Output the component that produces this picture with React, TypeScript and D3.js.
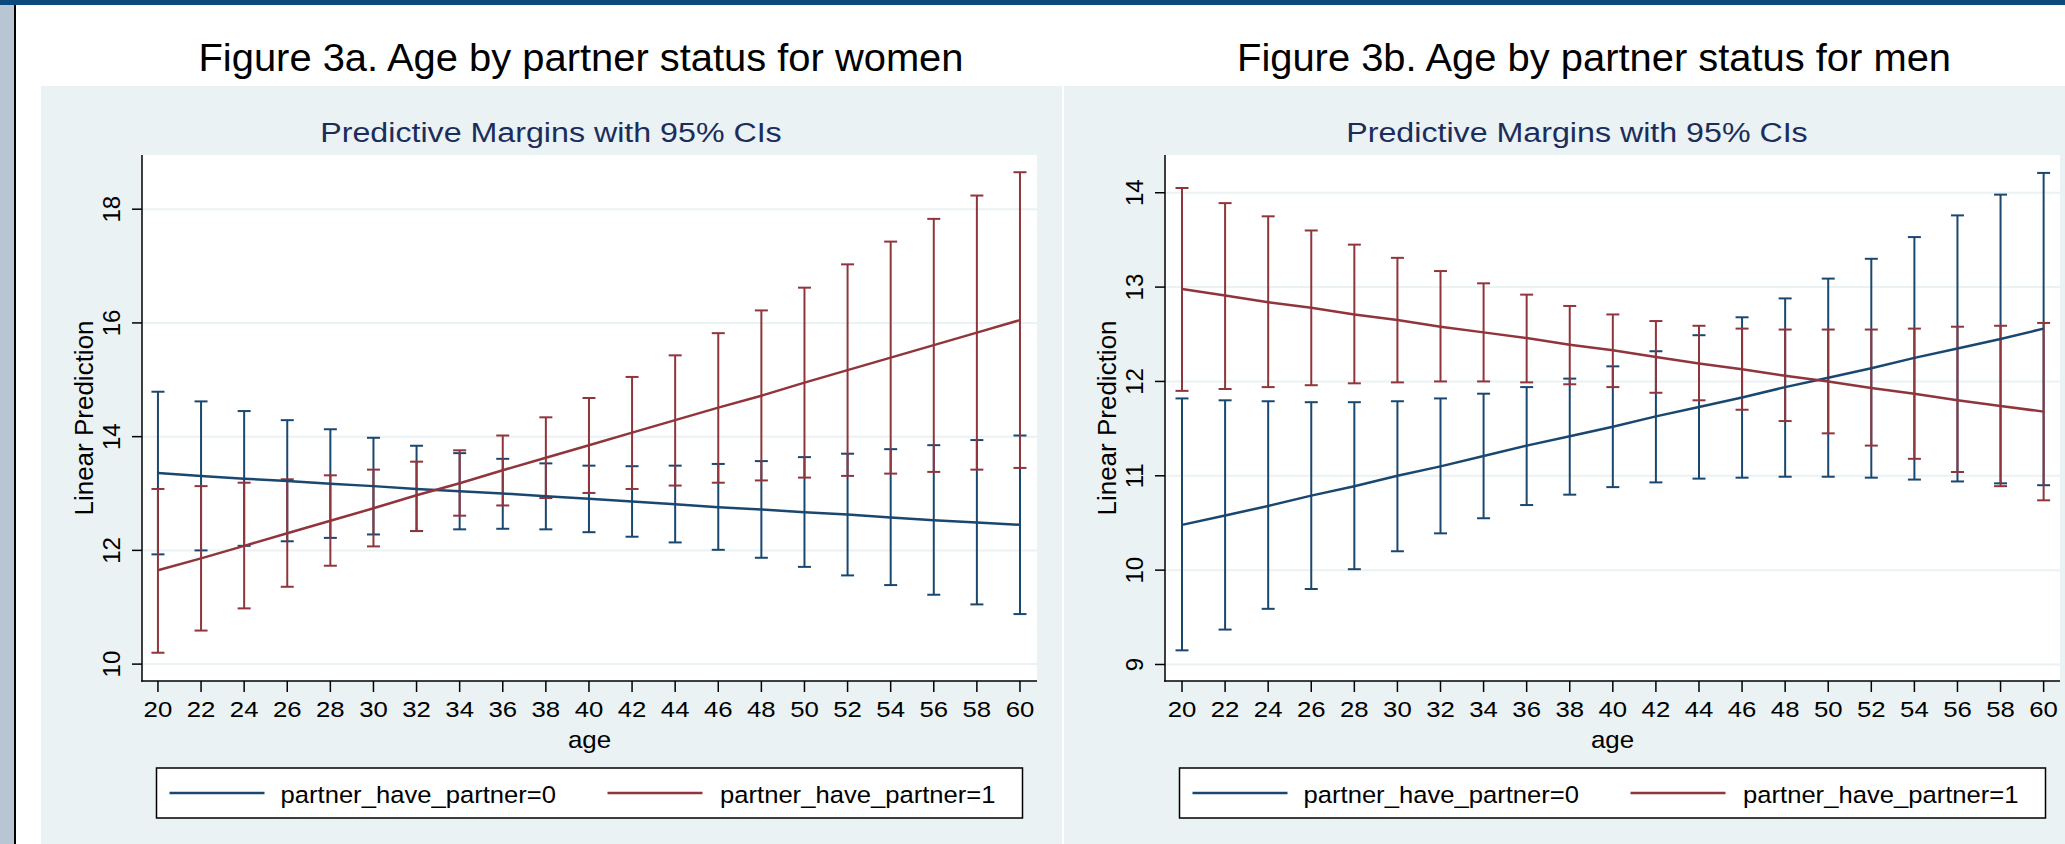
import React from "react";
import * as d3 from "d3";

// ---------- data ----------
const ages = [20, 22, 24, 26, 28, 30, 32, 34, 36, 38, 40, 42, 44, 46, 48, 50, 52, 54, 56, 58, 60];

// Figure 3a – women
const wNoMargin = [13.36, 13.31, 13.26, 13.22, 13.17, 13.13, 13.08, 13.04, 13.0, 12.95, 12.91, 12.86, 12.81, 12.76, 12.72, 12.67, 12.63, 12.58, 12.53, 12.49, 12.45];
const wNoLower = [11.93, 12.0, 12.08, 12.16, 12.22, 12.28, 12.34, 12.37, 12.38, 12.37, 12.32, 12.24, 12.14, 12.01, 11.87, 11.71, 11.56, 11.39, 11.22, 11.05, 10.88];
const wNoUpper = [14.79, 14.62, 14.45, 14.29, 14.13, 13.98, 13.84, 13.71, 13.61, 13.53, 13.49, 13.48, 13.49, 13.52, 13.57, 13.64, 13.7, 13.78, 13.85, 13.94, 14.02];
const wYesMargin = [11.65, 11.86, 12.08, 12.3, 12.52, 12.74, 12.97, 13.18, 13.41, 13.63, 13.85, 14.07, 14.29, 14.51, 14.72, 14.95, 15.17, 15.39, 15.61, 15.83, 16.05];
const wYesLower = [10.2, 10.59, 10.98, 11.36, 11.73, 12.07, 12.34, 12.61, 12.79, 12.92, 13.01, 13.08, 13.14, 13.19, 13.23, 13.28, 13.31, 13.35, 13.38, 13.42, 13.45];
const wYesUpper = [13.08, 13.13, 13.19, 13.25, 13.32, 13.42, 13.56, 13.76, 14.02, 14.34, 14.68, 15.05, 15.43, 15.82, 16.22, 16.62, 17.03, 17.43, 17.83, 18.24, 18.65];

// Figure 3b – men
const mNoMargin = [10.48, 10.58, 10.68, 10.79, 10.89, 11.0, 11.1, 11.21, 11.32, 11.42, 11.52, 11.63, 11.73, 11.83, 11.94, 12.04, 12.14, 12.25, 12.35, 12.45, 12.56];
const mNoLower = [9.15, 9.37, 9.59, 9.8, 10.01, 10.2, 10.39, 10.55, 10.69, 10.8, 10.88, 10.93, 10.97, 10.98, 10.99, 10.99, 10.98, 10.96, 10.94, 10.92, 10.9];
const mNoUpper = [11.82, 11.8, 11.79, 11.78, 11.78, 11.79, 11.82, 11.87, 11.94, 12.03, 12.16, 12.32, 12.49, 12.68, 12.88, 13.09, 13.3, 13.53, 13.76, 13.98, 14.21];
const mYesMargin = [12.98, 12.91, 12.84, 12.78, 12.71, 12.65, 12.58, 12.52, 12.46, 12.39, 12.33, 12.26, 12.19, 12.13, 12.06, 12.0, 11.93, 11.87, 11.8, 11.74, 11.68];
const mYesLower = [11.9, 11.92, 11.94, 11.96, 11.98, 11.99, 12.0, 12.0, 11.99, 11.97, 11.94, 11.88, 11.8, 11.7, 11.58, 11.45, 11.32, 11.18, 11.04, 10.89, 10.74];
const mYesUpper = [14.05, 13.89, 13.75, 13.6, 13.45, 13.31, 13.17, 13.04, 12.92, 12.8, 12.71, 12.64, 12.59, 12.56, 12.55, 12.55, 12.55, 12.56, 12.58, 12.59, 12.62];

const yTicksWomen = [10, 12, 14, 16, 18];
const yTicksMen = [9, 10, 11, 12, 13, 14];
const seriesLabels = ["partner_have_partner=0", "partner_have_partner=1"];

// ---------- style ----------
const W = 2065;
const H = 844;
const FONT = "'Liberation Sans', Arial, Helvetica, sans-serif";
const BLUE = "#1a476f";
const RED = "#90353b";
const PANEL_BG = "#eaf2f3";
const GRID = "#eaf2f3";
const SUB = "#1c2d5c";

function HText(props: any) {
  const { x, y, fs, sx = 1, anchor = "middle", fill = "#000", children } = props;
  return (
    <text
      transform={`translate(${x},${y}) scale(${sx},1)`}
      fontSize={fs}
      textAnchor={anchor}
      fill={fill}
      fontFamily={FONT}
    >
      {children}
    </text>
  );
}

type Series = { margin: number[]; lower: number[]; upper: number[]; color: string };

function Panel(props: any) {
  const { bgX0, bgX1, px0, px1, xDomain, yDomain, yTicks, series, title, titleX, subX } = props;
  const py0 = 155;
  const py1 = 681;
  const x = d3.scaleLinear().domain(xDomain).range([px0, px1]);
  const y = d3.scaleLinear().domain(yDomain).range([py1, py0]);
  const line = d3
    .line<number>()
    .x((_, i) => x(ages[i]))
    .y((d) => y(d));
  const cx = (px0 + px1) / 2;
  const capHalf = 6.5;
  const ss: Series[] = series;

  return (
    <g>
      <rect x={bgX0} y={86} width={bgX1 - bgX0} height={H - 86} fill={PANEL_BG} />
      <HText x={titleX} y={71} fs={38} sx={1.05}>
        {title}
      </HText>
      <HText x={subX} y={142} fs={28} sx={1.15} fill={SUB}>
        Predictive Margins with 95% CIs
      </HText>
      <rect x={px0} y={py0} width={px1 - px0} height={py1 - py0} fill="#fff" />
      {yTicks.map((t: number) => (
        <line key={"g" + t} x1={px0} x2={px1} y1={y(t)} y2={y(t)} stroke={GRID} strokeWidth={2} />
      ))}
      {/* CIs */}
      {ss.map((s, si) => (
        <g key={"ci" + si} stroke={s.color} strokeWidth={2} fill="none">
          {ages.map((a, i) => (
            <g key={a}>
              <line x1={x(a)} x2={x(a)} y1={y(s.lower[i])} y2={y(s.upper[i])} />
              <line x1={x(a) - capHalf} x2={x(a) + capHalf} y1={y(s.lower[i])} y2={y(s.lower[i])} />
              <line x1={x(a) - capHalf} x2={x(a) + capHalf} y1={y(s.upper[i])} y2={y(s.upper[i])} />
            </g>
          ))}
        </g>
      ))}
      {ss.map((s, si) => (
        <path key={"l" + si} d={line(s.margin) || ""} stroke={s.color} strokeWidth={2.5} fill="none" />
      ))}
      {/* axes */}
      <line x1={px0} x2={px0} y1={py0} y2={py1 + 0.75} stroke="#000" strokeWidth={1.5} />
      <line x1={px0 - 0.75} x2={px1} y1={py1} y2={py1} stroke="#000" strokeWidth={1.5} />
      {yTicks.map((t: number) => (
        <g key={"yt" + t}>
          <line x1={px0 - 10} x2={px0} y1={y(t)} y2={y(t)} stroke="#000" strokeWidth={1.5} />
          <text
            transform={`translate(${px0 - 22},${y(t)}) rotate(-90)`}
            fontSize={24}
            textAnchor="middle"
            fontFamily={FONT}
            fill="#000"
          >
            {t}
          </text>
        </g>
      ))}
      {ages.map((a) => (
        <g key={"xt" + a}>
          <line x1={x(a)} x2={x(a)} y1={py1} y2={py1 + 11} stroke="#000" strokeWidth={1.5} />
          <HText x={x(a)} y={717} fs={23} sx={1.12}>
            {a}
          </HText>
        </g>
      ))}
      <HText x={cx} y={748} fs={24} sx={1.08}>
        age
      </HText>
      <text
        transform={`translate(${px0 - 49},${(py0 + py1) / 2}) rotate(-90)`}
        fontSize={26}
        textAnchor="middle"
        fontFamily={FONT}
        fill="#000"
      >
        Linear Prediction
      </text>
      {/* legend */}
      <rect x={cx - 433} y={768} width={866} height={50} fill="#fff" stroke="#000" strokeWidth={1.5} />
      <line x1={cx - 420} x2={cx - 325} y1={793} y2={793} stroke={ss[0].color} strokeWidth={2.5} />
      <HText x={cx - 309} y={803} fs={23.5} sx={1.09} anchor="start">
        {seriesLabels[0]}
      </HText>
      <line x1={cx + 18} x2={cx + 113} y1={793} y2={793} stroke={ss[1].color} strokeWidth={2.5} />
      <HText x={cx + 130.5} y={803} fs={23.5} sx={1.09} anchor="start">
        {seriesLabels[1]}
      </HText>
    </g>
  );
}

export default function App() {
  const women: Series[] = [
    { margin: wNoMargin, lower: wNoLower, upper: wNoUpper, color: BLUE },
    { margin: wYesMargin, lower: wYesLower, upper: wYesUpper, color: RED },
  ];
  const men: Series[] = [
    { margin: mNoMargin, lower: mNoLower, upper: mNoUpper, color: BLUE },
    { margin: mYesMargin, lower: mYesLower, upper: mYesUpper, color: RED },
  ];
  return (
    <svg
      width={W}
      height={H}
      style={{ position: "absolute", left: 0, top: 0, background: "#fff" }}
    >
      <rect x={0} y={0} width={W} height={H} fill="#fff" />
      <rect x={0} y={0} width={14} height={H} fill="#b8c6d4" />
      <rect x={14} y={0} width={2} height={H} fill="#000" />
      <rect x={0} y={0} width={W} height={5} fill="#0b4a7d" />
      <Panel
        bgX0={41}
        bgX1={1062}
        px0={142}
        px1={1037}
        xDomain={[19.26, 60.79]}
        yDomain={[9.703, 18.953]}
        yTicks={yTicksWomen}
        series={women}
        title="Figure 3a. Age by partner status for women"
        titleX={581}
        subX={551}
      />
      <Panel
        bgX0={1064}
        bgX1={W}
        px0={1165}
        px1={2060}
        xDomain={[19.21, 60.76]}
        yDomain={[8.825, 14.4]}
        yTicks={yTicksMen}
        series={men}
        title="Figure 3b. Age by partner status for men"
        titleX={1594}
        subX={1577}
      />
    </svg>
  );
}
